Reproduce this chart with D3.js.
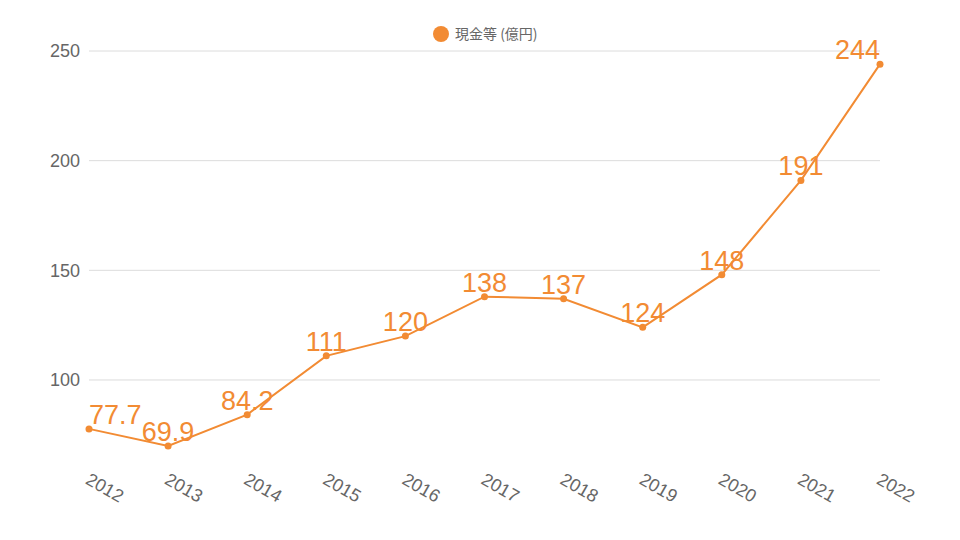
<!DOCTYPE html>
<html><head><meta charset="utf-8">
<script src="https://cdn.jsdelivr.net/npm/d3@7"></script>
<style>html,body{margin:0;padding:0;background:#fff;}svg{display:block;font-family:"Liberation Sans",Arial,sans-serif;}</style>
</head><body>
<svg id="c" width="960" height="540"></svg>
<script>
const years = ["2012","2013","2014","2015","2016","2017","2018","2019","2020","2021","2022"];
const cash = [77.7, 69.9, 84.2, 111, 120, 138, 137, 124, 148, 191, 244];
const yTicks = [100, 150, 200, 250];
const seriesName = "現金等 (億円)";
const color = "#f28b33";

const svg = d3.select("#c");
const x = d3.scalePoint().domain(years).range([89, 880]);
const y = d3.scaleLinear().domain([60, 250]).range([467.7, 51]);

// grid
svg.append("g").selectAll("line").data(yTicks).join("line")
  .attr("x1", 89).attr("x2", 880)
  .attr("y1", d => y(d)).attr("y2", d => y(d))
  .attr("stroke", "#dcdcdc").attr("stroke-width", 1);

// y axis
const yAxis = svg.append("g").attr("transform", "translate(89,0)")
  .call(d3.axisLeft(y).tickValues(yTicks).tickSize(0).tickPadding(9));
yAxis.select(".domain").remove();
yAxis.selectAll("text").attr("fill", "#666").style("font-size", "18px")
  .style("font-family", "Liberation Sans, Arial, sans-serif");

// x axis
const xAxis = svg.append("g").attr("transform", "translate(0,468)")
  .call(d3.axisBottom(x).tickSize(0).tickPadding(0));
xAxis.select(".domain").remove();
xAxis.selectAll("text").attr("fill", "#666").style("font-size", "18px")
  .style("font-family", "Liberation Sans, Arial, sans-serif")
  .attr("text-anchor", "start").attr("dy", null).attr("y", 0)
  .attr("transform", "translate(-5,15) rotate(30)");

// line
svg.append("path").datum(cash.map((v, i) => [years[i], v]))
  .attr("fill", "none").attr("stroke", color).attr("stroke-width", 2)
  .attr("d", d3.line().x(d => x(d[0])).y(d => y(d[1])));

svg.append("g").selectAll("circle").data(cash).join("circle")
  .attr("cx", (d, i) => x(years[i])).attr("cy", d => y(d)).attr("r", 3.5)
  .attr("fill", color);

// labels, clamped inside plot area
const [pl, pr] = x.range();
svg.append("g").selectAll("text").data(cash).join("text")
  .attr("y", d => y(d) - 5)
  .attr("text-anchor", "middle")
  .attr("fill", color).style("font-size", "27px")
  .text(d => d)
  .each(function(d, i) {
    const w = this.getComputedTextLength();
    let cx = x(years[i]);
    cx = Math.max(pl + w / 2, Math.min(pr - w / 2, cx));
    d3.select(this).attr("x", cx);
  });

// legend
const lg = svg.append("g");
lg.append("circle").attr("cx", 441).attr("cy", 34).attr("r", 8).attr("fill", color);
lg.append("text").attr("x", 455).attr("y", 39).attr("fill", "#666")
  .style("font-size", "14px").style("font-family", "'Noto Sans CJK JP', sans-serif")
  .text(seriesName);
</script>
</body></html>
